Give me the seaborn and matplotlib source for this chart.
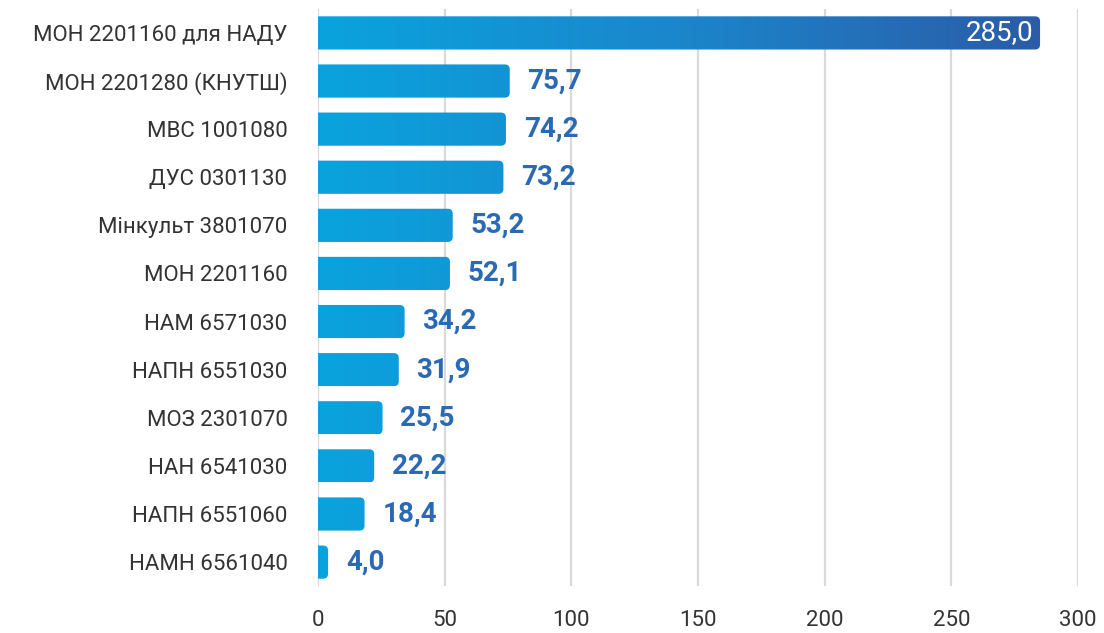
import numpy as np
import pandas as pd
import matplotlib
matplotlib.use('Agg')
import matplotlib.pyplot as plt
from matplotlib.colors import LinearSegmentedColormap
from matplotlib.patches import FancyBboxPatch
import seaborn as sns

categories = ['МОН 2201160 для НАДУ', 'МОН 2201280 (КНУТШ)', 'МВС 1001080',
              'ДУС 0301130', 'Мінкульт 3801070', 'МОН 2201160', 'НАМ 6571030',
              'НАПН 6551030', 'МОЗ 2301070', 'НАН 6541030', 'НАПН 6551060',
              'НАМН 6561040']
values = [285.0, 75.7, 74.2, 73.2, 53.2, 52.1, 34.2, 31.9, 25.5, 22.2, 18.4, 4.0]
x_ticks = [0, 50, 100, 150, 200, 250, 300]

df = pd.DataFrame({'name': categories, 'value': values})

sns.set_style('white')
plt.rcParams['font.family'] = ['Roboto', 'DejaVu Sans']

fig = plt.figure(figsize=(11.04, 6.33), dpi=100)
ax = fig.add_axes([0.288, 0.074, 0.6885, 0.912])

sns.barplot(data=df, x='value', y='name', orient='h', width=0.69, ax=ax)
ax.set_xlim(0, 300)
ax.set_ylim(11.5, -0.5)

# gradient goes from light cyan-blue at 0 to dark blue at the max
cmap = LinearSegmentedColormap.from_list('bl', ['#0aa3de', '#1b86cb', '#2b5ca8'])
grad = np.linspace(0, 1, 256).reshape(1, -1)

fig.canvas.draw()
px = ax.transData.transform([[0, 0], [1, 1]])
px_x = abs(px[1, 0] - px[0, 0])
px_y = abs(px[1, 1] - px[0, 1])
r_px = 5
for bar in ax.patches:
    bar.set_visible(False)
    y0, h, w = bar.get_y(), bar.get_height(), bar.get_width()
    box = FancyBboxPatch((-10, y0), w + 10, h,
                         boxstyle=f'round,pad=0,rounding_size={r_px / px_x}',
                         mutation_aspect=px_x / px_y,
                         facecolor='none', edgecolor='none')
    ax.add_patch(box)
    im = ax.imshow(grad, extent=[0, max(values), y0 + h, y0], aspect='auto',
                   cmap=cmap, zorder=2, interpolation='bicubic')
    im.set_clip_path(box)

ax.set_xlim(0, 300)
ax.set_ylim(11.5, -0.5)

for i, v in enumerate(values):
    lab = f'{v:.1f}'.replace('.', ',')
    if i == 0:
        ax.text(v - 2.5, i, lab, ha='right', va='center', color='white',
                fontsize=20, zorder=3)
    else:
        ax.text(v + 7, i, lab, ha='left', va='center', color='#2a6ab5',
                fontsize=20, fontweight='bold', zorder=3)

ax.set_xticks(x_ticks)
ax.xaxis.grid(True, color='#d9d9d9', linewidth=1.6)
ax.set_axisbelow(True)
for s in ax.spines.values():
    s.set_visible(False)
ax.tick_params(axis='both', length=0, labelsize=16, colors='#333333')
ax.tick_params(axis='x', pad=17)
ax.tick_params(axis='y', pad=22)
ax.set_xlabel('')
ax.set_ylabel('')

fig.savefig('out.png', dpi=100)
